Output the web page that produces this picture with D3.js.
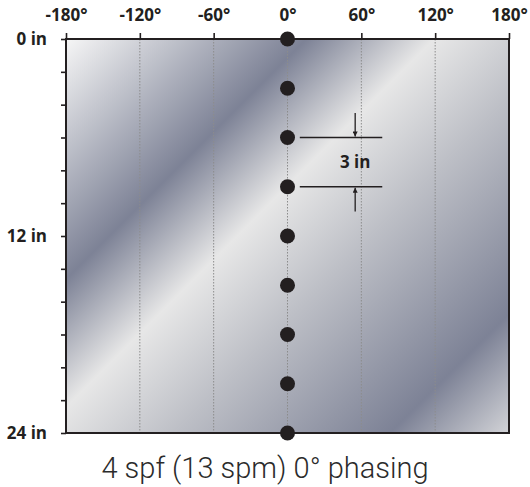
<!DOCTYPE html>
<html>
<head>
<meta charset="utf-8">
<script src="https://cdn.jsdelivr.net/npm/d3@7"></script>
<style>
  html, body { margin: 0; padding: 0; background: #ffffff; }
  svg { display: block; }
</style>
</head>
<body>
<svg id="chart" width="530" height="487"></svg>
<script>
// ---- data ----
const phaseTicks = [-180, -120, -60, 0, 60, 120, 180];
const gridPhases = [-120, -60, 0, 60, 120];
const depthTicks = [0, 2, 4, 6, 8, 10, 12, 14, 16, 18, 20, 22, 24];
const depthLabels = [0, 12, 24];
const shotDepths = [0, 3, 6, 9, 12, 15, 18, 21, 24];
const shotPhases = [0, 0, 0, 0, 0, 0, 0, 0, 0];
const spacingFrom = 6, spacingTo = 9, spacingLabel = "3 in";
const titleText = "4 spf (13 spm) 0° phasing";

(function () {
// ---- layout ----
const svg = d3.select("#chart");
const pL = 66, pR = 509, pT = 39, pB = 433;
const x = d3.scaleLinear().domain([-180, 180]).range([pL, pR]);
const y = d3.scaleLinear().domain([0, 24]).range([pT, pB]);
const ink = "#231f20";
const labelFont = "'Open Sans', 'DejaVu Sans', sans-serif";

// gradient background
const defs = svg.append("defs");
const grad = defs.append("linearGradient")
  .attr("id", "metal")
  .attr("gradientUnits", "userSpaceOnUse")
  .attr("x1", pL).attr("y1", pT)
  .attr("x2", pL + 418.5).attr("y2", pT + 418.5);
[[0, "#f6f6f6"], [0.287, "#7d8296"], [0.44, "#e7e7e7"], [0.6, "#bdbfc6"], [0.858, "#7d8296"], [1, "#d2d3d7"]]
  .forEach(([o, c]) => grad.append("stop").attr("offset", o).attr("stop-color", c));

svg.append("rect")
  .attr("x", pL).attr("y", pT)
  .attr("width", pR - pL).attr("height", pB - pT)
  .attr("fill", "url(#metal)");

// dotted grid lines
svg.append("g").selectAll("line").data(gridPhases).join("line")
  .attr("x1", d => x(d)).attr("x2", d => x(d))
  .attr("y1", pT).attr("y2", pB)
  .attr("stroke", "#8c8c8c").attr("stroke-width", 1)
  .attr("stroke-dasharray", "1.5,1.5");

// frame
svg.append("rect")
  .attr("x", pL).attr("y", pT)
  .attr("width", pR - pL).attr("height", pB - pT)
  .attr("fill", "none").attr("stroke", ink).attr("stroke-width", 2);

// top axis
const topAxis = d3.axisTop(x).tickValues(phaseTicks).tickSize(6).tickPadding(12)
  .tickFormat(d => d + "°");
const gTop = svg.append("g").attr("transform", `translate(0,${pT})`).call(topAxis);
gTop.select(".domain").remove();
gTop.selectAll(".tick line").attr("stroke", ink).attr("stroke-width", 1.6);
gTop.selectAll(".tick text")
  .attr("fill", ink)
  .style("font-family", labelFont)
  .style("font-weight", "700").style("font-size", "17px");

// left axis
const leftAxis = d3.axisLeft(y).tickValues(depthTicks).tickSize(5).tickPadding(14)
  .tickFormat(d => depthLabels.includes(d) ? d + " in" : "");
const gLeft = svg.append("g").attr("transform", `translate(${pL},0)`).call(leftAxis);
gLeft.select(".domain").remove();
gLeft.selectAll(".tick line").attr("stroke", ink).attr("stroke-width", 1.6);
gLeft.selectAll(".tick text")
  .attr("fill", ink)
  .style("font-family", labelFont)
  .style("font-weight", "700").style("font-size", "17px");

// spacing annotation
const annFrom = 10, annTo = 77, arrowPhase = 55;
const ann = svg.append("g");
ann.selectAll("line.ref").data([spacingFrom, spacingTo]).join("line")
  .attr("class", "ref")
  .attr("x1", x(annFrom)).attr("x2", x(annTo))
  .attr("y1", d => y(d)).attr("y2", d => y(d))
  .attr("stroke", ink).attr("stroke-width", 1.5);
defs.append("marker")
  .attr("id", "arrow").attr("viewBox", "0 0 10 10")
  .attr("refX", 10).attr("refY", 5)
  .attr("markerWidth", 8).attr("markerHeight", 5)
  .attr("markerUnits", "userSpaceOnUse")
  .attr("orient", "auto")
  .append("path").attr("d", "M0,0L10,5L0,10Z").attr("fill", ink);
ann.append("line")
  .attr("x1", x(arrowPhase)).attr("x2", x(arrowPhase))
  .attr("y1", y(spacingFrom - 1.5)).attr("y2", y(spacingFrom) - 1)
  .attr("stroke", ink).attr("stroke-width", 1.3)
  .attr("marker-end", "url(#arrow)");
ann.append("line")
  .attr("x1", x(arrowPhase)).attr("x2", x(arrowPhase))
  .attr("y1", y(spacingTo + 1.5)).attr("y2", y(spacingTo) + 1)
  .attr("stroke", ink).attr("stroke-width", 1.3)
  .attr("marker-end", "url(#arrow)");
ann.append("text")
  .attr("x", x(arrowPhase)).attr("y", y((spacingFrom + spacingTo) / 2) + 6)
  .attr("text-anchor", "middle")
  .attr("fill", ink)
  .style("font-family", labelFont)
  .style("font-weight", "700").style("font-size", "17px")
  .text(spacingLabel);

// shots
svg.append("g").selectAll("circle").data(shotDepths).join("circle")
  .attr("cx", (d, i) => x(shotPhases[i]))
  .attr("cy", d => y(d))
  .attr("r", 7.5)
  .attr("fill", ink);

// title
svg.append("text")
  .attr("x", 265).attr("y", 478)
  .attr("text-anchor", "middle")
  .attr("fill", "#2b2b2b")
  .style("font-family", "Roboto, Lato, 'Liberation Sans', sans-serif")
  .style("font-weight", "300").style("font-size", "29px")
  .text(titleText);
})();
</script>
</body>
</html>
